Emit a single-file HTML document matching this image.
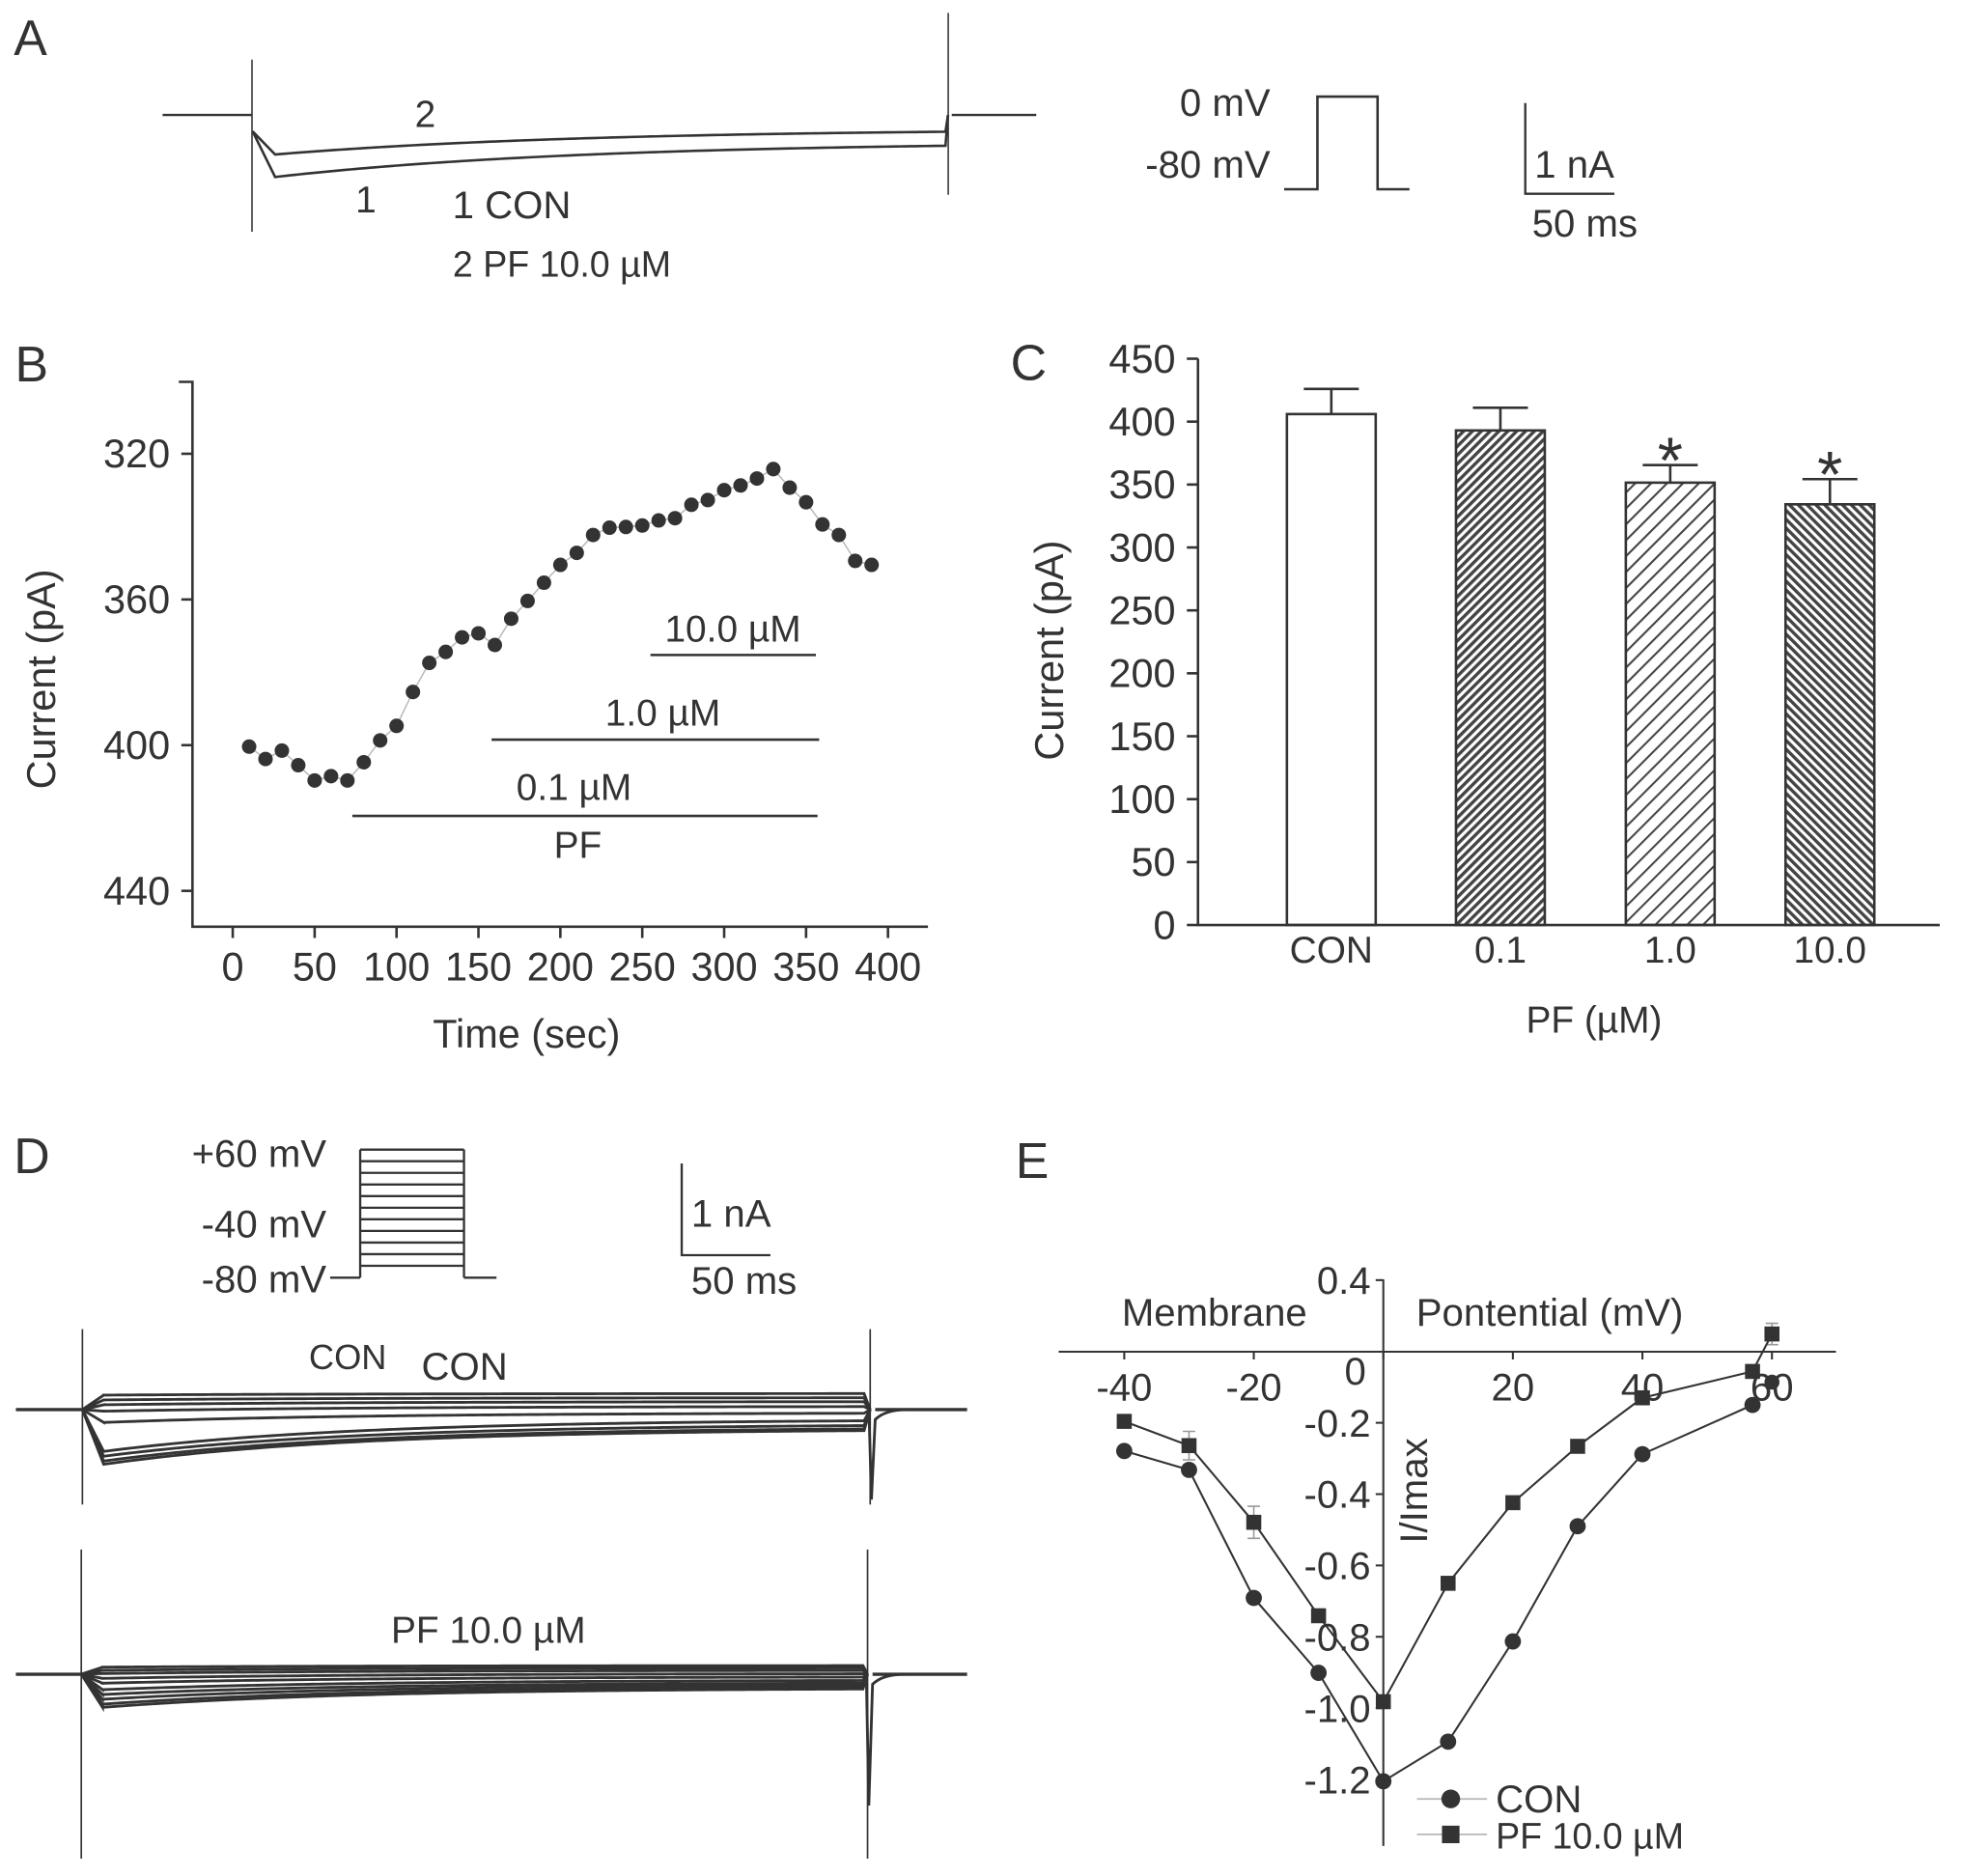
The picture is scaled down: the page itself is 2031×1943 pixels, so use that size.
<!DOCTYPE html>
<html><head><meta charset="utf-8"><style>
html,body{margin:0;padding:0;background:#fff;}
svg{display:block;}
text{font-family:"Liberation Sans",Arial,sans-serif;fill:#333;}
</style></head><body>
<svg id="fig" xmlns="http://www.w3.org/2000/svg" width="2031" height="1943" viewBox="0 0 1568 1500">
<defs>
<pattern id="hatchDense" patternUnits="userSpaceOnUse" width="5" height="5" patternTransform="rotate(45)"><rect width="5" height="5" fill="#fff"/><rect width="2.6" height="5" fill="#444"/></pattern>
<pattern id="hatchLight" patternUnits="userSpaceOnUse" width="9" height="9" patternTransform="rotate(45)"><rect width="9" height="9" fill="#fff"/><rect width="1.6" height="9" fill="#444"/></pattern>
<pattern id="hatchBack" patternUnits="userSpaceOnUse" width="5" height="5" patternTransform="rotate(-45)"><rect width="5" height="5" fill="#fff"/><rect width="2.6" height="5" fill="#444"/></pattern>
</defs>
<g id="root"></g>
</svg>
<script>
// ---------- Panel B data ----------
const bTimes = [10,20,30,40,50,60,70,80,90,100,110,120,130,140,150,160,170,180,190,200,210,220,230,240,250,260,270,280,290,300,310,320,330,340,350,360,370,380,390];
const bCurrents = [400.4,403.8,401.5,405.5,409.7,408.5,409.7,404.7,398.7,394.7,385.4,377.4,374.4,370.4,369.3,372.5,365.3,360.4,355.4,350.5,347.2,342.3,340.3,340.1,339.7,338.3,337.7,334.0,332.7,330.0,328.7,326.8,324.2,329.3,333.3,339.4,342.3,349.4,350.5];
const bYTicks = [320,360,400,440];
const bXTicks = [0,50,100,150,200,250,300,350,400];
const bBarLabels = ["10.0 µM","1.0 µM","0.1 µM"];
const bBarStart = [255,158,73];
const bBarEnd = [356,358,357];
// ---------- Panel C data ----------
const cCategories = ["CON","0.1","1.0","10.0"];
const cMeans = [406,393,351.5,334.3];
const cErrors = [20,18,14,20];
const cSig = [false,false,true,true];
const cYTicks = [0,50,100,150,200,250,300,350,400,450];
// ---------- Panel E data ----------
const eConV = [-40,-30,-20,-10,0,10,20,30,40,57];
const eConI = [-0.279,-0.332,-0.691,-0.901,-1.205,-1.094,-0.813,-0.490,-0.288,-0.150];
const ePfV = [-40,-30,-20,-10,0,10,20,30,40,57,60];
const ePfI = [-0.196,-0.264,-0.479,-0.741,-0.982,-0.650,-0.424,-0.266,-0.130,-0.056,0.049];
const ePfErr = [0,0.04,0.045,0,0,0,0,0,0,0,0.03];
const eExtraConV = [60];
const eExtraConI = [-0.086];
const eXTicks = [-40,-20,0,20,40,60];
const eYTickVals = [0.2,-0.2,-0.4,-0.6,-0.8,-1.0,-1.2];
const eYTickLabels = ["0.4","-0.2","-0.4","-0.6","-0.8","-1.0","-1.2"];
// ---------- trace levels (A, D) ----------
const aPeaks = [141.5,123.5];
const aEnds = [113.2,102.9];
const dConPeaks = [885,900,915,935,970,1060,1075,1090,1100];
const dConEnds = [880,893,905,920,940,960,975,985,990];
const dPfPeaks = [470,480,490,505,520,540,555,570,585,595];
const dPfEnds = [465,472,480,490,500,510,518,524,530,535];

const NS="http://www.w3.org/2000/svg";
const root=document.getElementById('root');
function mk(tag,attrs,parent){const e=document.createElementNS(NS,tag);for(const k in attrs)e.setAttribute(k,attrs[k]);(parent||root).appendChild(e);return e;}
function txt(s,x,y,size,anchor,parent){const t=mk('text',{x:x,y:y,'font-size':size,'text-anchor':anchor||'start'},parent);t.textContent=s;return t;}
const INK="#333";

// ================= Panel A =================
const gA=mk('g',{});


let t=txt("A",11,44,40,'start',gA);


mk('line',{x1:201.5,y1:47.6,x2:201.5,y2:185.3,stroke:INK,'stroke-width':1.2},gA);
mk('line',{x1:758.2,y1:10.3,x2:758.2,y2:155.7,stroke:INK,'stroke-width':1.2},gA);
mk('path',{d:'M130,91.9 L201.5,91.9 M761,91.9 L828.6,91.9',stroke:INK,'stroke-width':1.8,fill:'none'},gA);
function decayPath(x0,x1,xp,yp,yend,tau,startY){let d=`M${x0},${startY} L${xp},${yp}`;for(let x=xp;x<=x1;x+=4){const y=yend+(yp-yend)*Math.exp(-(x-xp)/tau);d+=` L${x},${y.toFixed(2)}`;}return d;}
aPeaks.forEach((p,i)=>{const pth=mk('path',{d:decayPath(202,756,220,p,aEnds[i],250,105)+` L758,91.9`,stroke:INK,'stroke-width':2,fill:'none'},gA);

});
txt("2",340,101.6,30,'middle',gA);
txt("1",292.5,170,30,'middle',gA);
t=txt("1 CON",361.8,174.5,31,'start',gA);


t=txt("2 PF 10.0 µM",362,221.3,29,'start',gA);


// protocol
let pp=mk('path',{d:'M1026.8,151.3 L1053.4,151.3 L1053.4,77.2 L1101.5,77.2 L1101.5,151.3 L1127,151.3',stroke:INK,'stroke-width':2,fill:'none'},gA);


txt("0 mV",1015.7,92.6,31,'end',gA);
txt("-80 mV",1015.7,142,31,'end',gA);
let sb=mk('path',{d:'M1219.6,82.4 L1219.6,154.9 L1290.8,154.9',stroke:INK,'stroke-width':1.8,fill:'none'},gA);


txt("1 nA",1227,142,31,'start',gA);
txt("50 ms",1225,189,31,'start',gA);

// ================= Panel B =================
const gB=mk('g',{});


const bx=v=>186.1+v*1.3098;
const by=v=>595.8+(v-400)*2.9125;
t=txt("B",12,305,40,'start',gB);


mk('path',{d:'M143,305.3 L153.9,305.3 L153.9,741 L742,741',stroke:INK,'stroke-width':2,fill:'none'},gB);
bYTicks.forEach(v=>{mk('line',{x1:145,x2:153.9,y1:by(v),y2:by(v),stroke:INK,'stroke-width':2},gB);
const l=txt(String(v),136,by(v)+11,32,'end',gB);

});
bXTicks.forEach(v=>{mk('line',{x1:bx(v),x2:bx(v),y1:741,y2:750,stroke:INK,'stroke-width':2},gB);
const l=txt(String(v),bx(v),784,32,'middle',gB);

});
t=txt("Time (sec)",421,837.6,32,'middle',gB);


t=txt("Current (pA)",0,0,32,'middle',gB);
t.setAttribute('transform','translate(44,543) rotate(-90)');


let dl='';bTimes.forEach((tt,i)=>{dl+=(i?' L':'M')+bx(tt)+','+by(bCurrents[i]);});
let ln=mk('path',{d:dl,stroke:'#bbb','stroke-width':1.2,fill:'none'},gB);


bTimes.forEach((tt,i)=>{const c=mk('circle',{cx:bx(tt),cy:by(bCurrents[i]),r:5.8,fill:'#333'},gB);

});
const barY=[523.7,591.4,652.4];
const labY=[513,580,639.5];
bBarLabels.forEach((s,i)=>{const l=mk('line',{x1:bx(bBarStart[i]),x2:bx(bBarEnd[i]),y1:barY[i],y2:barY[i],stroke:INK,'stroke-width':2},gB);


const cx=i==0?586:(i==1?530:459);
txt(s,cx,labY[i],30,'middle',gB);});
txt("PF",462,686,30,'middle',gB);

// ================= Panel C =================
const gC=mk('g',{});


const cy=v=>739.6-v*1.00624;
const cCenters=[1064.5,1199.7,1335.5,1463.2];
const cFills=['#fff','url(#hatchDense)','url(#hatchLight)','url(#hatchBack)'];
t=txt("C",808,303.6,40,'start',gC);


cCategories.forEach((c,i)=>{const x=cCenters[i];const top=cy(cMeans[i]);const et=cy(cMeans[i]+cErrors[i]);
mk('line',{x1:x,x2:x,y1:top,y2:et,stroke:INK,'stroke-width':2},gC);
mk('line',{x1:x-22,x2:x+22,y1:et,y2:et,stroke:INK,'stroke-width':2},gC);
const r=mk('rect',{x:x-35.5,y:top,width:71,height:cy(0)-top,fill:cFills[i],stroke:INK,'stroke-width':2},gC);


const l=txt(c,x,769.6,30,'middle',gC);


if(cSig[i]){const s=txt("*",x,et+14,52,'middle',gC);

}});
mk('path',{d:'M957.9,286.8 L957.9,739.6 L1551,739.6',stroke:INK,'stroke-width':2,fill:'none'},gC);
cYTicks.forEach(v=>{mk('line',{x1:949,x2:957.9,y1:cy(v),y2:cy(v),stroke:INK,'stroke-width':2},gC);
const l=txt(String(v),940,cy(v)+11,32,'end',gC);

});
t=txt("PF (µM)",1274.6,825.7,30,'middle',gC);


t=txt("Current (pA)",0,0,32,'middle',gC);
t.setAttribute('transform','translate(850,520) rotate(-90)');



// ================= Panel D =================
const gD=mk('g',{});


t=txt("D",11,938,40,'start',gD);


let steps='M264,1021.6 L288,1021.6 M371,1021.6 L397,1021.6 M288,919.2 L288,1021.6 M371,919.2 L371,1021.6';
for(let k=0;k<11;k++){const y=919.2+k*(1012.1-919.2)/10;steps+=` M288,${y.toFixed(1)} L371,${y.toFixed(1)}`;}
pp=mk('path',{d:steps,stroke:INK,'stroke-width':1.8,fill:'none'},gD);


txt("+60 mV",261,932.8,31,'end',gD);
txt("-40 mV",261,989.4,31,'end',gD);
txt("-80 mV",261,1033.2,31,'end',gD);
sb=mk('path',{d:'M545.1,930.3 L545.1,1003.6 L616,1003.6',stroke:INK,'stroke-width':1.8,fill:'none'},gD);


txt("1 nA",552.7,981,31,'start',gD);
txt("50 ms",552.7,1034.5,31,'start',gD);
function traceSet(yConv,peaks,ends,base,xL,xR,vTop,vBot,spike,name){
  mk('line',{x1:xL,x2:xL,y1:vTop,y2:vBot,stroke:INK,'stroke-width':1.3},gD);
  mk('line',{x1:xR,x2:xR,y1:vTop,y2:vBot,stroke:INK,'stroke-width':1.3},gD);
  mk('path',{d:`M12.7,${base} L${xL},${base} M${xR+4},${base} L773.3,${base}`,stroke:INK,'stroke-width':2.6,fill:'none'},gD);
  peaks.forEach((p,i)=>{const yp=yConv(p),ye=yConv(ends[i]);
    const pth=mk('path',{d:decayPath(xL,xR-2,xL+17,yp,ye,200,base)+` L${xR},${base}`,stroke:INK,'stroke-width':2.2,fill:'none'},gD);
    
    });
  mk('path',{d:`M${xR-1},${base} L${xR+1},${spike} L${xR+4},${base+8} Q${xR+12},${base} ${xR+30},${base}`,stroke:INK,'stroke-width':2.2,fill:'none'},gD);
}
traceSet(z=>887.8+z*0.2573,dConPeaks,dConEnds,1127.1,65.9,695.8,1062.8,1203,1199,'con-trace');
t=txt("CON",247,1094.9,28,'start',gD);
t=txt("CON",337,1103.4,31,'start',gD);
traceSet(z=>1212.1+z*0.2573,dPfPeaks,dPfEnds,1338.7,65,693.7,1239,1486.1,1443.7,'pf-trace');
t=txt("PF 10.0 µM",390.5,1313.7,30,'middle',gD);



// ================= Panel E =================
const gE=mk('g',{});


const ex=v=>1106.1+v*5.179;
const ey=v=>1080.6-v*285.2;
t=txt("E",812,942,40,'start',gE);


mk('line',{x1:846.5,x2:1468,y1:1080.8,y2:1080.8,stroke:INK,'stroke-width':1.6},gE);
mk('line',{x1:1106.1,x2:1106.1,y1:1023,y2:1476,stroke:INK,'stroke-width':1.6},gE);
eXTicks.forEach(v=>{mk('line',{x1:ex(v),x2:ex(v),y1:1080.8,y2:1087,stroke:INK,'stroke-width':1.6},gE);
const l=txt(String(v),v===0?1083.7:ex(v),v===0?1107:1120,31,'middle',gE);

});
eYTickVals.forEach((v,i)=>{mk('line',{x1:1100,x2:1106.1,y1:ey(v),y2:ey(v),stroke:INK,'stroke-width':1.6},gE);
const l=txt(eYTickLabels[i],1096,ey(v)+11,31,'end',gE);

});
t=txt("Membrane",897,1060,31,'start',gE);


txt("Pontential (mV)",1132.4,1060,31,'start',gE);
t=txt("I/Imax",0,0,31,'middle',gE);
t.setAttribute('transform','translate(1141,1192) rotate(-90)');


// error bars
ePfV.forEach((v,i)=>{if(ePfErr[i]>0){const x=ex(v);mk('path',{d:`M${x},${ey(ePfI[i]+ePfErr[i])} L${x},${ey(ePfI[i]-ePfErr[i])} M${x-5},${ey(ePfI[i]+ePfErr[i])} L${x+5},${ey(ePfI[i]+ePfErr[i])} M${x-5},${ey(ePfI[i]-ePfErr[i])} L${x+5},${ey(ePfI[i]-ePfErr[i])}`,stroke:'#999','stroke-width':1.2,fill:'none'},gE);}});
let d1='';eConV.forEach((v,i)=>{d1+=(i?' L':'M')+ex(v)+','+ey(eConI[i]);});
ln=mk('path',{d:d1,stroke:INK,'stroke-width':1.6,fill:'none'},gE);


let d2='';ePfV.forEach((v,i)=>{d2+=(i?' L':'M')+ex(v)+','+ey(ePfI[i]);});
ln=mk('path',{d:d2,stroke:INK,'stroke-width':1.6,fill:'none'},gE);


eConV.forEach((v,i)=>{const c=mk('circle',{cx:ex(v),cy:ey(eConI[i]),r:6.5,fill:'#333'},gE);

});
eExtraConV.forEach((v,i)=>{const c=mk('circle',{cx:ex(v),cy:ey(eExtraConI[i]),r:6,fill:'#333'},gE);

});
ePfV.forEach((v,i)=>{const r=mk('rect',{x:ex(v)-6,y:ey(ePfI[i])-6,width:12,height:12,fill:'#333'},gE);

});
// legend
const lg=mk('g',{},gE);


mk('line',{x1:1133,x2:1189,y1:1438.4,y2:1438.4,stroke:'#bbb','stroke-width':1.5},lg);
mk('circle',{cx:1160,cy:1438.4,r:7.5,fill:'#333'},lg);
txt("CON",1196,1449,31,'start',lg);
mk('line',{x1:1133,x2:1189,y1:1466.8,y2:1466.8,stroke:'#bbb','stroke-width':1.5},lg);
mk('rect',{x:1153,y:1459.8,width:14,height:14,fill:'#333'},lg);
txt("PF 10.0 µM",1196,1478,29,'start',lg);
</script>
</body></html>
